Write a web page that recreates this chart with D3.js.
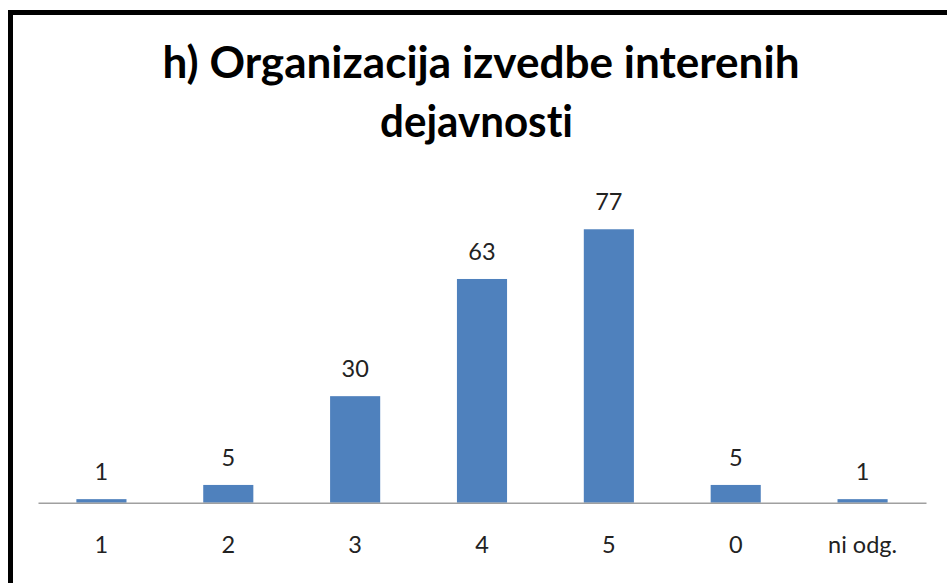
<!DOCTYPE html>
<html>
<head>
<meta charset="utf-8">
<script src="https://cdn.jsdelivr.net/npm/d3@7"></script>
<style>
  html, body { margin: 0; padding: 0; background: #fff; }
  svg { display: block; }
  text { font-variant-ligatures: none; font-feature-settings: "liga" 0, "clig" 0; }
</style>
</head>
<body>
<svg id="chart" width="947" height="583"></svg>
<script>
const titleLines = ["h) Organizacija izvedbe interenih", "dejavnosti"];
const categories = ["1", "2", "3", "4", "5", "0", "ni odg."];
const values = [1, 5, 30, 63, 77, 5, 1];
const yMax = 90;

const svg = d3.select("#chart");
const W = 947, H = 583;

// white background
svg.append("rect").attr("width", W).attr("height", H).attr("fill", "#fff");

// frame (extends beyond the right and bottom edges)
svg.append("rect")
  .attr("x", 10.5).attr("y", 12.5)
  .attr("width", 1200).attr("height", 1200)
  .attr("fill", "none").attr("stroke", "#000").attr("stroke-width", 5);

// title
const titleFont = "Lato, 'Open Sans', sans-serif";
const title = svg.append("g");
title.append("text")
  .attr("x", 481).attr("y", 78)
  .attr("text-anchor", "middle")
  .attr("font-family", titleFont).attr("font-weight", "bold")
  .attr("font-size", 43).attr("fill", "#000")
  .attr("textLength", 637).attr("lengthAdjust", "spacingAndGlyphs")
  .text(titleLines[0]);
title.append("text")
  .attr("x", 476.5).attr("y", 136.5)
  .attr("text-anchor", "middle")
  .attr("font-family", titleFont).attr("font-weight", "bold")
  .attr("font-size", 43).attr("fill", "#000")
  .attr("textLength", 193).attr("lengthAdjust", "spacingAndGlyphs")
  .text(titleLines[1]);

// scales
const x = d3.scaleBand()
  .domain(categories)
  .range([38, 926])
  .paddingInner(0.605)
  .paddingOuter(0.3025);

const baseY = 502.7;
const y = d3.scaleLinear().domain([0, yMax]).range([baseY, 183.1]);

const labelFont = "Lato, 'Open Sans', sans-serif";

// bars
svg.append("g").selectAll("rect")
  .data(values)
  .join("rect")
  .attr("x", (d, i) => x(categories[i]))
  .attr("y", d => y(d))
  .attr("width", x.bandwidth())
  .attr("height", d => y(0) - y(d))
  .attr("fill", "#4F81BD");

// data labels
svg.append("g").selectAll("text")
  .data(values)
  .join("text")
  .attr("x", (d, i) => x(categories[i]) + x.bandwidth() / 2)
  .attr("y", d => y(d) - 19)
  .attr("text-anchor", "middle")
  .attr("font-family", labelFont)
  .attr("font-size", 23.5)
  .attr("fill", "#222")
  .text(d => d);

// x axis
const axis = svg.append("g")
  .attr("transform", `translate(0,${baseY})`)
  .call(d3.axisBottom(x).tickSize(0).tickSizeOuter(0));
axis.select(".domain").attr("stroke", "#a0a0a0").attr("stroke-width", 1.5);
axis.selectAll(".tick text")
  .attr("y", 50).attr("dy", 0)
  .attr("font-family", labelFont)
  .attr("font-size", 23.5)
  .attr("fill", "#222");
</script>
</body>
</html>
